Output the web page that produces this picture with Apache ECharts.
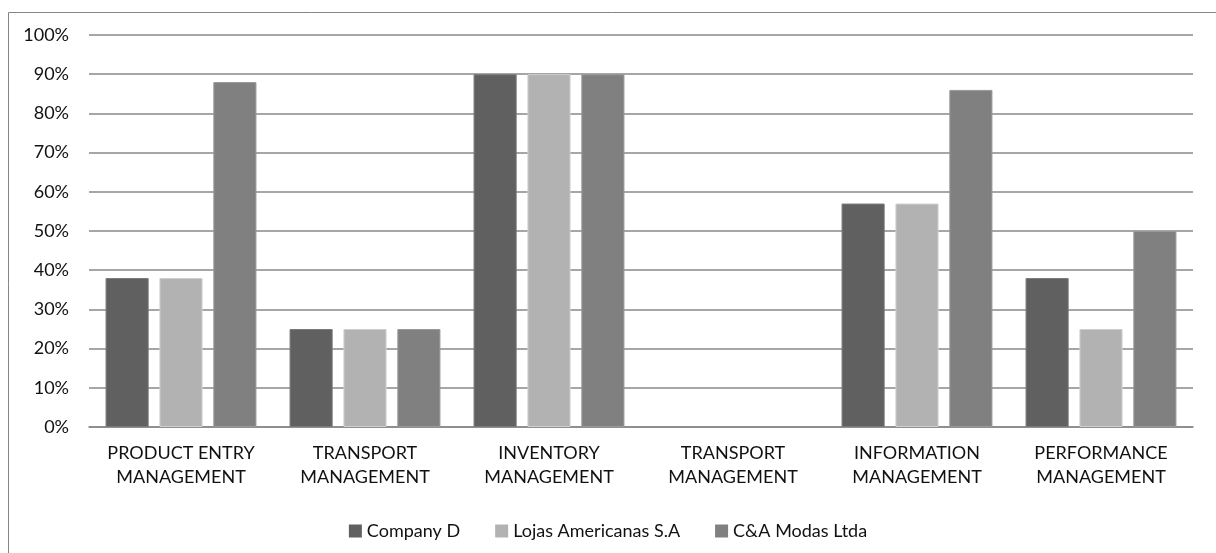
<!DOCTYPE html>
<html><head><meta charset="utf-8">
<script src="https://cdn.jsdelivr.net/npm/echarts@6/dist/echarts.min.js"></script>
<style>html,body{margin:0;padding:0;background:#fff}#c{width:1216px;height:553px}</style>
</head><body><div id="c"></div>
<script>
const categories = ["PRODUCT ENTRY\nMANAGEMENT","TRANSPORT\nMANAGEMENT","INVENTORY\nMANAGEMENT","TRANSPORT\nMANAGEMENT","INFORMATION\nMANAGEMENT","PERFORMANCE\nMANAGEMENT"];
const seriesNames = ["Company D","Lojas Americanas S.A","C&A Modas Ltda"];
const companyD = [38,25,90,0,57,38];
const lojas = [38,25,90,0,57,25];
const cea = [88,25,90,0,86,50];
const yTicks = [0,10,20,30,40,50,60,70,80,90,100];
const colors = ["#606060","#b2b2b2","#808080"];
const borders = ["#7a7a7a","#cfcfcf","#9a9a9a"];
const font = "Lato";
const chart = echarts.init(document.getElementById('c'));
const vals=[companyD,lojas,cea];
chart.setOption({
  animation:false,
  textStyle:{fontFamily:font},
  graphic:[{type:'rect',shape:{x:8.5,y:12.5,width:1220,height:560},style:{fill:'none',stroke:'#868686',lineWidth:1},silent:true}],
  grid:{left:89,right:23,top:35,bottom:126},
  legend:{top:517,left:'center',itemWidth:13,itemHeight:13,itemGap:35,itemStyle:{borderWidth:0},icon:'rect',
    textStyle:{fontFamily:font,fontSize:18,color:'#111'},data:seriesNames},
  xAxis:{type:'category',data:categories,axisTick:{show:false},
    axisLine:{lineStyle:{color:'#888',width:1.5}},
    axisLabel:{fontFamily:font,fontSize:18,color:'#111',lineHeight:24,margin:14,interval:0}},
  yAxis:{type:'value',min:0,max:100,interval:10,
    axisLabel:{formatter:v=>v+'%',fontFamily:font,fontSize:18,color:'#111',margin:20},
    axisLine:{show:false},axisTick:{show:false},
    splitLine:{lineStyle:{color:'#888',width:1.5}}},
  series:seriesNames.map((n,i)=>({name:n,type:'bar',
    data:vals[i].map(v=>v===0?{value:v,itemStyle:{borderWidth:0}}:v),
    barGap:'25%',barCategoryGap:'18%',
    itemStyle:{color:colors[i],borderColor:borders[i],borderWidth:1}}))
});
</script></body></html>
